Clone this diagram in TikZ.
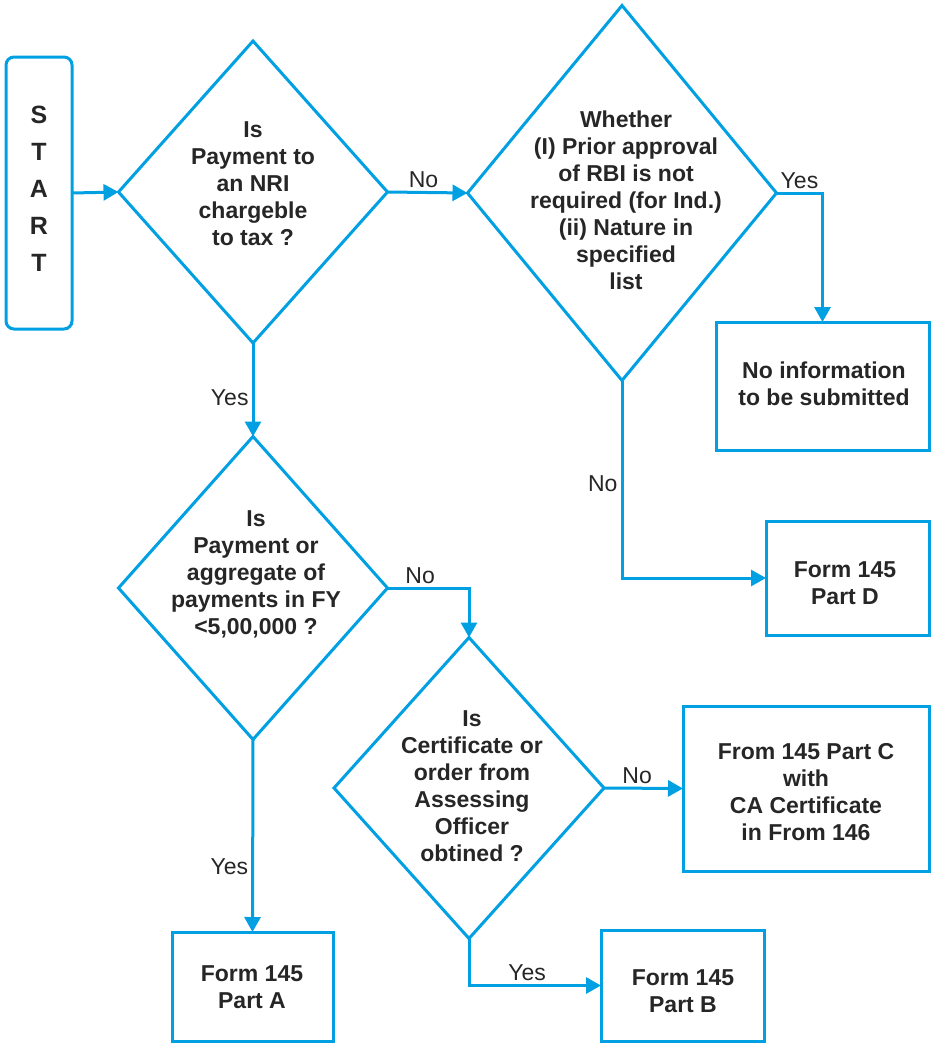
\documentclass[tikz,border=0pt]{standalone}
\usepackage{fontspec}
\setmainfont{Liberation Sans}
\usetikzlibrary{shapes.geometric,arrows.meta}
\definecolor{flowblue}{RGB}{0,160,227}
\definecolor{ink}{RGB}{38,38,38}
\tikzset{
  shapeline/.style={draw=flowblue, line width=3pt, outer sep=0pt, inner sep=0pt},
  dia/.style={shapeline, diamond, shape aspect=1},
  box/.style={shapeline, rectangle},
  txt/.style={text=ink, font=\bfseries\fontsize{23}{27}\selectfont, align=center, inner sep=0pt},
  lbl/.style={text=ink, font=\fontsize{23}{27}\selectfont, inner sep=3pt},
  arr/.style={draw=flowblue, line width=3pt, -{Triangle[length=15pt,width=16pt]}},
}
\begin{document}
\begin{tikzpicture}[x=1pt,y=-1pt]
\useasboundingbox (0,0) rectangle (934,1047);
% shapes
\node[box, rounded corners=8pt, minimum width=66pt, minimum height=272pt] (start) at (39,193) {};
\node[txt, font=\bfseries\fontsize{25}{37}\selectfont] (starttxt) at (39,189) {S\\T\\A\\R\\T};

\node[dia, minimum width=269pt, minimum height=302pt] (d1) at (253,192) {};
\node[txt] (d1txt) at (253,184) {Is\\Payment to\\an NRI\\chargeble\\to tax ?};

\node[dia, minimum width=309pt, minimum height=375pt] (d2) at (622,193) {};
\node[txt] (d2txt) at (626,200) {Whether\\(I) Prior approval\\of RBI is not\\required (for Ind.)\\(ii) Nature in\\specified\\list};

\node[box, minimum width=213pt, minimum height=128pt] (bN) at (822.5,386) {};
\node[txt] (bNtxt) at (824,383.5) {No information\\to be submitted};

\node[box, minimum width=163pt, minimum height=114pt] (bD) at (847.5,578) {};
\node[txt] (bDtxt) at (845,583) {Form 145\\Part D};

\node[dia, minimum width=269pt, minimum height=303pt] (d3) at (253,588) {};
\node[txt] (d3txt) at (256,574.5) {Is\\Payment or\\aggregate of\\payments in FY\\<5,00,000 ?};

\node[dia, minimum width=270pt, minimum height=301pt] (d4) at (469,788) {};
\node[txt] (d4txt) at (472,786.5) {Is\\Certificate or\\order from\\Assessing\\Officer\\obtined ?};

\node[box, minimum width=246pt, minimum height=165pt] (bC) at (806,788.5) {};
\node[txt] (bCtxt) at (806,792.5) {From 145 Part C\\with\\CA Certificate\\in From 146};

\node[box, minimum width=163pt, minimum height=111pt] (bB) at (682.5,985.5) {};
\node[txt] (bBtxt) at (683,991) {Form 145\\Part B};

\node[box, minimum width=161pt, minimum height=109pt] (bA) at (252.5,986.5) {};
\node[txt] (bAtxt) at (252,987) {Form 145\\Part A};

% connectors
\draw[arr] (start.east) -- (d1.west);
\draw[arr] (d1.east) -- node[lbl, above, pos=0.45] {No} (d2.west);
\draw[arr] (d2.east) -| node[lbl, above, pos=0.25] {Yes} (bN.north);
\draw[arr] (d2.south) |- node[lbl, left, pos=0.26] {No} (bD.west);
\draw[arr] (d1.south) -- node[lbl, left, pos=0.58] {Yes} (d3.north);
\draw[arr] (d3.east) -| node[lbl, above, pos=0.2] {No} (d4.north);
\draw[arr] (d4.east) -- node[lbl, above, pos=0.42] {No} (bC.west);
\draw[arr] (d4.south) |- node[lbl, above, pos=0.72] {Yes} (bB.west);
\draw[arr] (d3.south) -- node[lbl, left, pos=0.66] {Yes} (bA.north);
\end{tikzpicture}
\end{document}
